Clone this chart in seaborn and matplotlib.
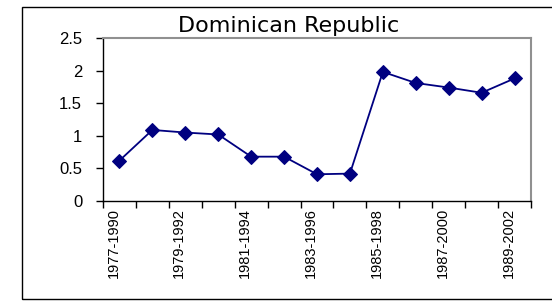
import matplotlib
matplotlib.use("Agg")
import matplotlib.pyplot as plt
import matplotlib.transforms as mtransforms
from matplotlib.patches import Rectangle
import seaborn as sns
import pandas as pd
import numpy as np

periods = ["1977-1990", "1978-1991", "1979-1992", "1980-1993", "1981-1994",
           "1982-1995", "1983-1996", "1984-1997", "1985-1998", "1986-1999",
           "1987-2000", "1988-2001", "1989-2002"]
values = [0.62, 1.09, 1.05, 1.02, 0.68, 0.68, 0.41, 0.42, 1.98, 1.81, 1.74, 1.66, 1.88]
title = "Dominican Republic"
y_ticks = [0, 0.5, 1, 1.5, 2, 2.5]
y_tick_labels = ["0", "0.5", "1", "1.5", "2", "2.5"]

sns.set_style("white")
plt.rcParams["font.family"] = ["Liberation Sans", "DejaVu Sans"]
plt.rcParams["text.color"] = "black"
plt.rcParams["xtick.color"] = "black"
plt.rcParams["ytick.color"] = "black"

df = pd.DataFrame({"pos": np.arange(len(periods)), "value": values})

fig = plt.figure(figsize=(5.52, 3.01), dpi=100)
W, H = 552, 301
ax = fig.add_axes([103 / W, 1 - 201 / H, 428 / W, 163 / H])

sns.lineplot(data=df, x="pos", y="value", ax=ax, color="#000080", lw=1.3,
             marker="D", markersize=7.5, markeredgecolor="#000080",
             markerfacecolor="#000080")

ax.set_xlim(-0.5, len(periods) - 0.5)
ax.set_ylim(0, 2.5)
ax.set_xlabel("")
ax.set_ylabel("")

# tick marks at category boundaries, labels at every other category
ax.set_xticks(np.arange(-0.5, len(periods), 1.0))
ax.set_xticklabels([])
ax.set_xticks(np.arange(0, len(periods), 2), minor=True)
ax.set_xticklabels(periods[::2], minor=True, rotation=90, fontsize=10.5,
                   va="top", ha="center", color="black")
ax.tick_params(axis="x", which="major", direction="out", length=5, width=1,
               color="#000000", bottom=True)
ax.tick_params(axis="x", which="minor", length=0, pad=5, bottom=True)
offset = mtransforms.ScaledTranslation(-6 / 100, 0, fig.dpi_scale_trans)
for lab in ax.xaxis.get_minorticklabels():
    lab.set_transform(lab.get_transform() + offset)

ax.set_yticks(y_ticks)
ax.set_yticklabels(y_tick_labels, fontsize=12, color="black")
ax.tick_params(axis="y", direction="out", length=5, width=1, color="#000000",
               left=True, pad=10)

for side in ["left", "bottom"]:
    ax.spines[side].set_color("#000000")
    ax.spines[side].set_linewidth(1)
for side in ["top", "right"]:
    ax.spines[side].set_color("#909090")
    ax.spines[side].set_linewidth(1.5)

fig.text(289 / W, 1 - 26 / H, title, fontsize=16, ha="center", va="center",
         color="black", family=["DejaVu Sans"])

# outer chart border
border = Rectangle((22 / W, 1 - 299 / H), 1.0, (299 - 7) / H,
                   transform=fig.transFigure, fill=False, edgecolor="#000000",
                   lw=1, clip_on=False)
fig.patches.append(border)

fig.savefig("out.png", dpi=100)
